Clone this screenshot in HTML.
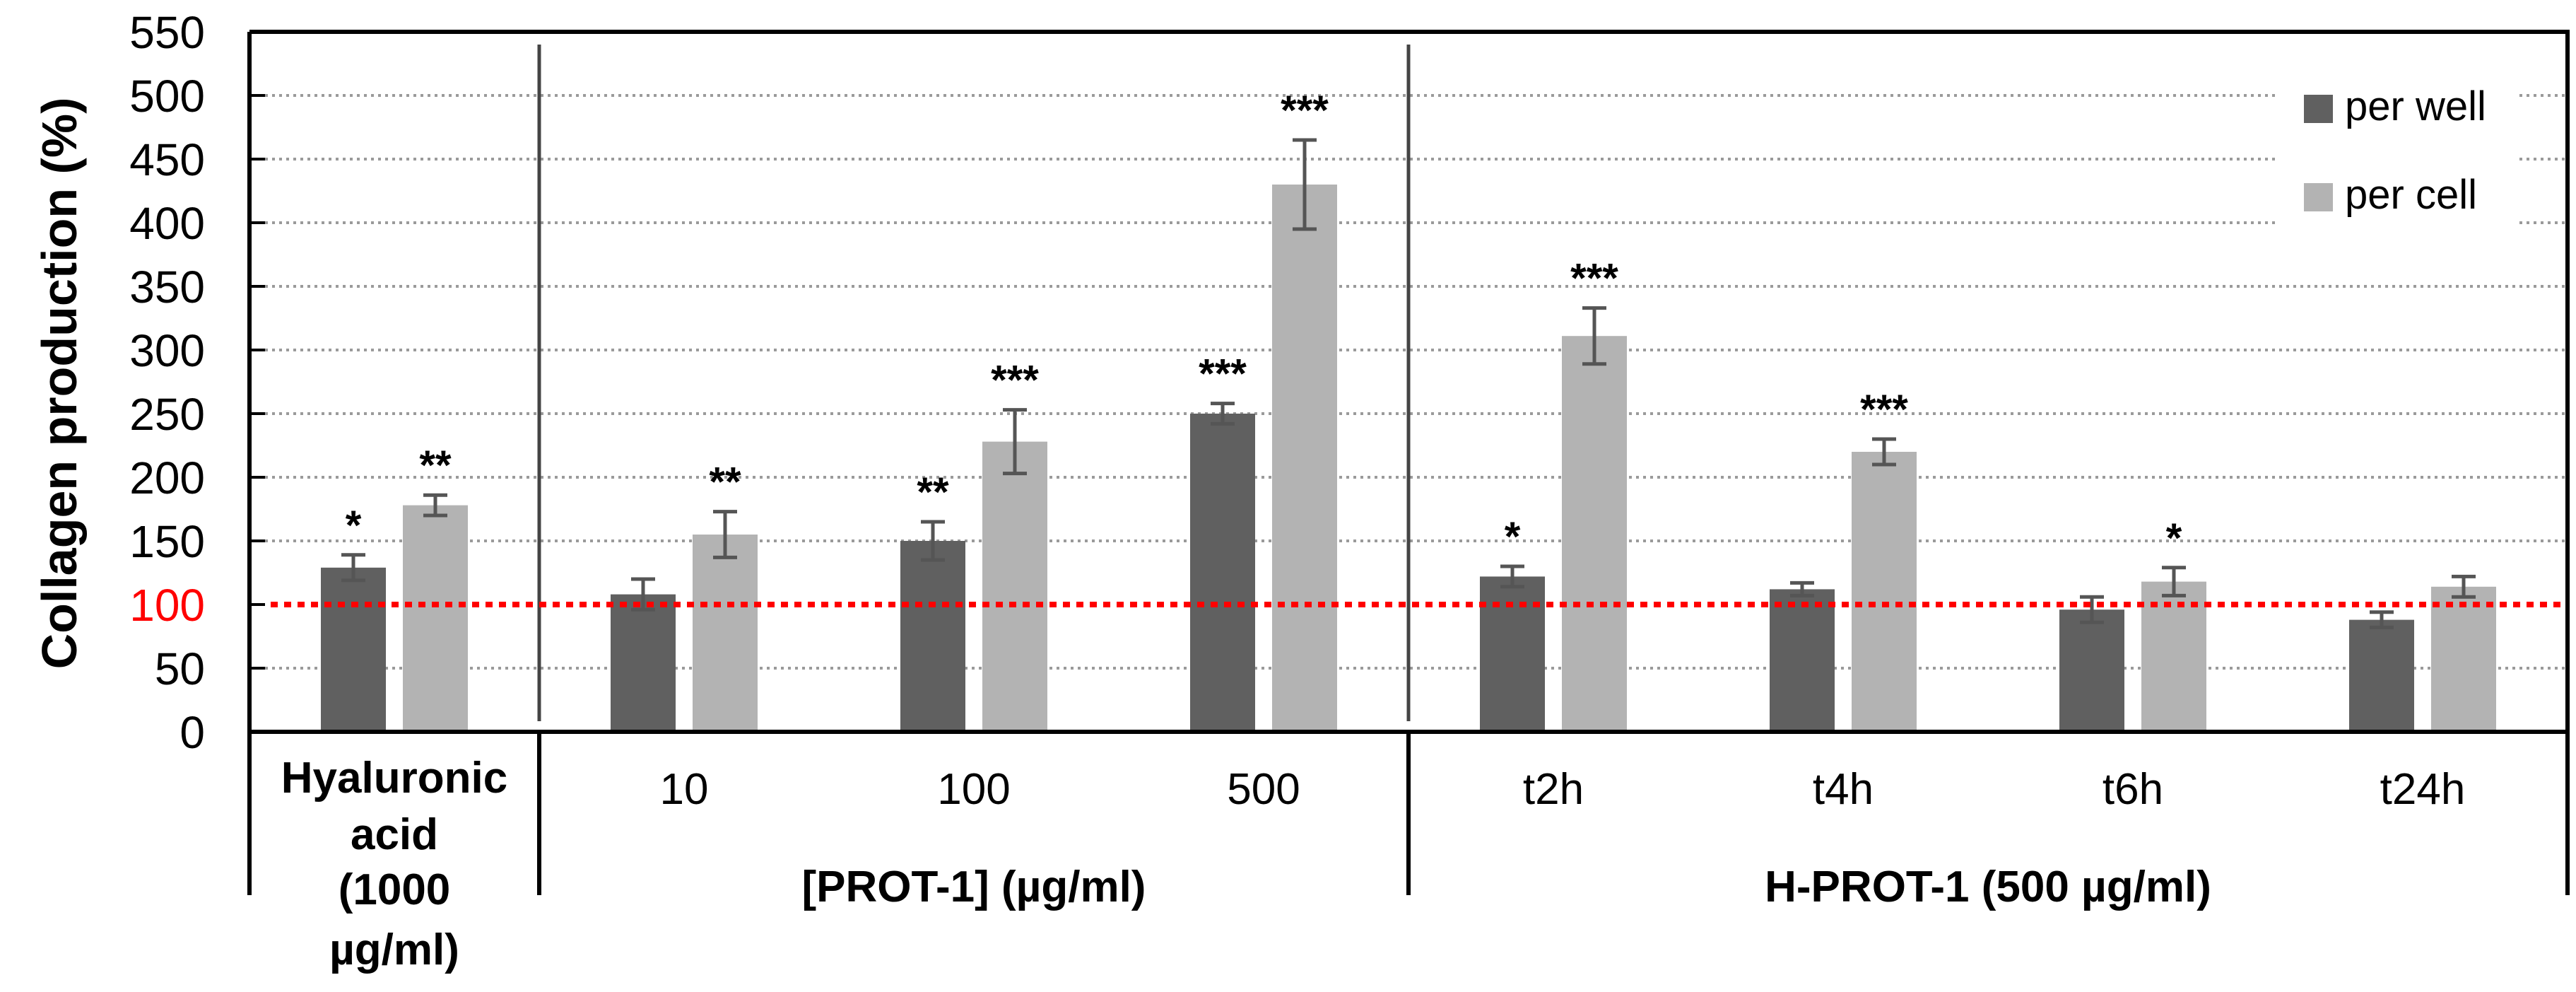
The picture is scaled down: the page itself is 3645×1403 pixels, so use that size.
<!DOCTYPE html>
<html><head><meta charset="utf-8"><style>html,body{margin:0;padding:0;background:#fff}svg{display:block}</style></head>
<body>
<svg id="chart" xmlns="http://www.w3.org/2000/svg" width="3645" height="1403" viewBox="0 0 3645 1403" font-family="Liberation Sans, sans-serif"></svg>
<script>
const categories = ["Hyaluronic acid", "10", "100", "500", "t2h", "t4h", "t6h", "t24h"];
const perWell = [129, 108, 150, 250, 122, 112, 96, 88];
const perWellErr = [10, 12, 15, 8, 8, 5, 10, 6];
const perCell = [178, 155, 228, 430, 311, 220, 118, 114];
const perCellErr = [8, 18, 25, 35, 22, 10, 11, 8];
const wellStars = ["*", "", "**", "***", "*", "", "", ""];
const cellStars = ["**", "**", "***", "***", "***", "***", "*", ""];
const yTicks = [0, 50, 100, 150, 200, 250, 300, 350, 400, 450, 500, 550];

const svg = document.getElementById('chart');
const NS = 'http://www.w3.org/2000/svg';
const L = 353, R = 3633, T = 45, B = 1035;
const yMax = 550;
const y = v => B - v / yMax * (B - T);
const band = (R - L) / categories.length;
const xc = i => L + band * (i + 0.5);
function el(tag, attrs, parent) {
  const e = document.createElementNS(NS, tag);
  for (const k in attrs) e.setAttribute(k, attrs[k]);
  (parent || svg).appendChild(e);
  return e;
}
// gridlines
yTicks.forEach(t => {
  if (t === 0 || t === 550 || t === 100) return;
  const g = el('line', {x1: L + 22, x2: R, y1: y(t), y2: y(t), stroke: '#9a9a9a', 'stroke-width': 4, 'stroke-dasharray': '4 6'});
  
  
});
// ticks + labels
yTicks.forEach(t => {
  const tk = el('line', {x1: L, x2: L + 22, y1: y(t), y2: y(t), stroke: '#000', 'stroke-width': 4});
  
  
  const tx = el('text', {x: 290, y: y(t) + 23, 'text-anchor': 'end', 'font-size': 64, fill: t === 100 ? '#ff0000' : '#000'});
  tx.textContent = t;
  
  
});
// legend background (gap in gridlines)
const lb = el('rect', {x: 3225, y: 90, width: 340, height: 280, fill: '#fff'});


// separators in plot
[1, 4].forEach(k => {
  const s = el('line', {x1: L + band * k, x2: L + band * k, y1: 63, y2: 1020, stroke: '#444', 'stroke-width': 5});
  
  
});
// bars
const bw = 92, off = 58;
categories.forEach((c, i) => {
  [[perWell, perWellErr, wellStars, '#606060', -off, 'per-well'], [perCell, perCellErr, cellStars, '#b3b3b3', off, 'per-cell']].forEach(([vals, errs, stars, col, o, nm]) => {
    const cx = xc(i) + o;
    const r = el('rect', {x: cx - bw / 2, y: y(vals[i]), width: bw, height: B - y(vals[i]), fill: col});
    
    
    const hi = y(vals[i] + errs[i]), lo = y(vals[i] - errs[i]);
    const eg = el('path', {d: `M${cx},${hi}V${lo}M${cx - 17},${hi}H${cx + 17}M${cx - 17},${lo}H${cx + 17}`, stroke: '#555', 'stroke-width': 5, fill: 'none'});
    
    
    if (stars[i]) {
      const st = el('text', {x: cx, y: hi - 22, 'text-anchor': 'middle', 'font-size': 58, 'font-weight': 'bold', fill: '#000'});
      st.textContent = stars[i];
      
      
    }
  });
});
// red reference line
const rl = el('line', {x1: 383, x2: R, y1: y(100), y2: y(100), stroke: '#ff0000', 'stroke-width': 8, 'stroke-dasharray': '10 9'});


// frame
const fr = el('path', {d: `M${L},${T}H${R}V1266M${L},${T}V1266M${L},${B}H${R}M${L + band},${B}V1266M${L + band * 4},${B}V1266`, stroke: '#000', 'stroke-width': 6, fill: 'none'});


// category labels
categories.forEach((c, i) => {
  if (i === 0) return;
  const t = el('text', {x: xc(i), y: 1137, 'text-anchor': 'middle', 'font-size': 62});
  t.textContent = c;
  
  
});
["Hyaluronic", "acid", "(1000", "µg/ml)"].forEach((s, k) => {
  const t = el('text', {x: xc(0), y: [1121, 1201, 1279, 1364][k], 'text-anchor': 'middle', 'font-size': 62, 'font-weight': 'bold'});
  t.textContent = s;
  
  
});
const g1 = el('text', {x: L + band * 2.5, y: 1275, 'text-anchor': 'middle', 'font-size': 62, 'font-weight': 'bold'});
g1.textContent = '[PROT-1] (µg/ml)';


const g2 = el('text', {x: L + band * 6, y: 1275, 'text-anchor': 'middle', 'font-size': 62, 'font-weight': 'bold'});
g2.textContent = 'H-PROT-1 (500 µg/ml)';


// y axis title
const yt = el('text', {x: 0, y: 0, transform: 'translate(108,542) rotate(-90)', 'text-anchor': 'middle', 'font-size': 70, 'font-weight': 'bold'});
yt.textContent = 'Collagen production (%)';


// legend
[['per well', '#606060', 134], ['per cell', '#b3b3b3', 259]].forEach(([n, c, yy]) => {
  const sw = el('rect', {x: 3260, y: yy, width: 41, height: 40, fill: c});
  
  
  const t = el('text', {x: 3318, y: yy + 36, 'font-size': 58});
  t.textContent = n;
  
  
});
</script>
</body></html>
